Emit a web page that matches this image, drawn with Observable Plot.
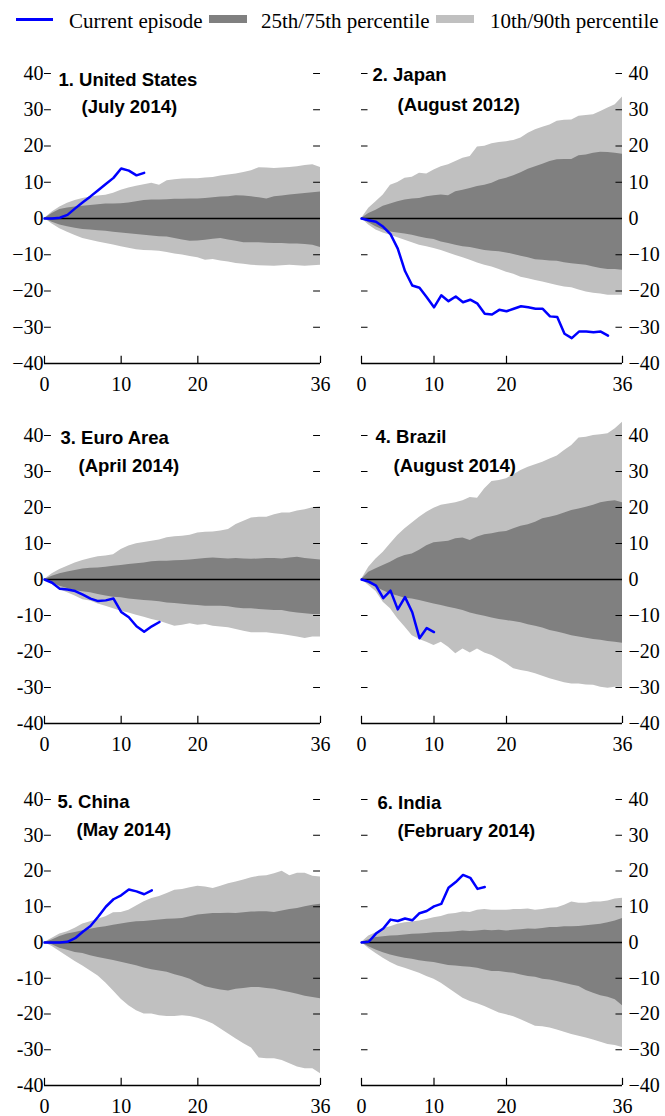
<!DOCTYPE html>
<html>
<head>
<meta charset="utf-8">
<script src="https://cdn.jsdelivr.net/npm/d3@7"></script>
<script src="https://cdn.jsdelivr.net/npm/@observablehq/plot@0.6"></script>
<style>
  html, body { margin: 0; padding: 0; background: #fff; }
  body { width: 665px; height: 1116px; position: relative; overflow: hidden; font-family: "Liberation Serif", serif; }
  .lg { position: absolute; font-size: 21px; line-height: 21px; white-space: nowrap; color: #000; }
  .sw { position: absolute; }
  .panel { position: absolute; }
</style>
</head>
<body>
<div id="legend">
  <div class="sw" style="left:16px;top:18px;width:37px;height:3px;background:#0000ff"></div>
  <div class="lg" style="left:69px;top:11px">Current episode</div>
  <div class="sw" style="left:209px;top:15px;width:38px;height:8px;background:#808080"></div>
  <div class="lg" style="left:261px;top:11px">25th/75th percentile</div>
  <div class="sw" style="left:436px;top:15px;width:38px;height:8px;background:#c0c0c0"></div>
  <div class="lg" style="left:490px;top:11px">10th/90th percentile</div>
</div>
<div id="charts"></div>
<script>
// ---- Data (months 0..36) ----
const months = d3.range(0, 37);
const xTicks = [0, 10, 20, 36];
const yTicks = [-40, -30, -20, -10, 0, 10, 20, 30, 40];

const titles = [
  ["1. United States", "(July 2014)"],
  ["2. Japan", "(August 2012)"],
  ["3. Euro Area", "(April 2014)"],
  ["4. Brazil", "(August 2014)"],
  ["5. China", "(May 2014)"],
  ["6. India", "(February 2014)"]
];

// United States
const usP90 = [0,1.8,3.2,4.2,5.0,5.5,5.9,6.2,6.4,7.0,7.8,8.4,8.9,9.3,9.7,9.2,10.4,10.7,10.9,11.0,11.0,11.2,11.3,11.7,12.0,12.3,12.7,13.2,14.0,13.9,13.8,13.9,14.1,14.3,14.6,14.8,14.1];
const usP75 = [0,1.4,2.5,2.9,3.2,3.4,3.6,3.8,4.0,4.0,4.1,4.3,4.6,5.0,5.1,5.1,5.2,5.3,5.3,5.4,5.4,5.5,5.7,5.9,6.0,6.3,6.2,6.0,5.7,5.4,6.0,6.2,6.5,6.7,6.9,7.1,7.3];
const usP25 = [0,-1.0,-1.8,-2.3,-2.7,-3.0,-3.2,-3.4,-3.5,-3.8,-4.0,-4.2,-4.4,-4.6,-4.8,-5.0,-5.1,-5.5,-5.9,-6.3,-6.2,-6.0,-5.7,-5.5,-5.9,-6.3,-6.7,-6.7,-6.7,-6.8,-6.9,-6.9,-7.0,-7.0,-7.2,-7.4,-8.0];
const usP10 = [0,-1.5,-2.8,-3.8,-4.7,-5.5,-6.0,-6.5,-6.9,-7.3,-7.8,-8.2,-8.6,-8.8,-8.9,-9.0,-9.4,-9.8,-10.1,-10.5,-10.8,-11.5,-11.3,-11.7,-12.0,-12.4,-12.6,-12.9,-13.0,-13.1,-13.2,-13.0,-12.9,-13.0,-13.2,-13.0,-12.9];
const usCur = [0,0,0.2,1.0,2.8,4.5,6.1,7.8,9.5,11.2,13.8,13.2,11.9,12.6];

// Japan
const jpP90 = [0,2.8,4.6,6.5,9.2,9.9,11.1,11.4,12.5,12.3,13.4,14.3,14.8,15.7,16.6,17.1,19.7,19.9,20.6,21.0,21.2,21.5,22.2,23.5,24.5,25.2,25.8,26.8,27.1,27.2,28.2,28.4,28.6,29.5,30.5,31.4,33.5];
const jpP75 = [0,1.4,2.3,3.4,4.0,4.6,5.1,5.4,5.5,6.0,6.3,6.5,6.3,7.4,7.8,8.3,8.8,9.2,9.7,10.6,11.1,11.8,12.6,13.6,14.3,15.0,15.7,16.2,16.3,16.3,17.3,17.5,18.0,18.3,18.2,18.0,17.7];
const jpP25 = [0,-1.2,-2.3,-3.2,-3.7,-4.0,-4.3,-4.6,-5.1,-5.5,-5.8,-6.5,-6.9,-7.4,-7.8,-8.0,-8.4,-8.8,-9.0,-9.2,-9.5,-9.9,-10.4,-10.8,-11.4,-11.5,-11.7,-11.8,-12.2,-12.5,-12.7,-12.9,-13.4,-13.8,-14.1,-14.1,-14.3];
const jpP10 = [0,-1.8,-3.2,-4.0,-4.6,-5.3,-6.0,-6.7,-7.4,-7.8,-8.3,-8.8,-9.5,-10.2,-10.8,-11.5,-12.3,-12.9,-13.4,-14.1,-14.8,-15.4,-16.2,-16.6,-17.1,-17.5,-18.0,-18.5,-18.9,-19.1,-19.7,-20.3,-20.6,-20.8,-21.2,-21.2,-21.2];
const jpCur = [0,-0.5,-0.9,-2.3,-4.3,-8.3,-14.5,-18.5,-19.1,-21.7,-24.5,-21.2,-22.8,-21.5,-23.1,-22.4,-23.5,-26.3,-26.5,-25.2,-25.6,-24.9,-24.2,-24.5,-24.9,-24.9,-27.0,-27.2,-31.8,-33.0,-31.2,-31.2,-31.4,-31.2,-32.3];

// Euro Area
const euP90 = [0,1.6,2.8,3.7,4.6,5.3,5.8,6.3,6.5,6.9,8.3,9.3,9.9,10.3,10.6,11.0,11.6,11.9,12.0,12.3,12.9,13.1,13.2,13.5,13.9,15.3,16.2,17.1,17.3,17.3,18.0,18.5,18.5,19.0,19.4,19.9,20.2];
const euP75 = [0,0.9,1.6,2.1,2.5,2.9,3.1,3.2,3.4,3.7,3.9,4.2,4.4,4.6,4.9,5.1,5.1,5.2,5.3,5.4,5.6,5.8,6.0,5.8,5.7,5.8,5.7,5.6,5.7,5.8,5.8,5.7,6.0,6.2,5.8,5.6,5.4];
const euP25 = [0,-0.9,-1.9,-2.5,-3.1,-3.4,-3.7,-4.2,-4.6,-4.9,-5.1,-5.4,-5.6,-5.8,-6.0,-6.2,-6.5,-6.7,-6.9,-7.1,-7.2,-7.4,-7.4,-7.4,-7.6,-7.9,-8.1,-8.1,-8.3,-8.5,-8.6,-8.6,-9.0,-9.3,-9.5,-9.7,-9.7];
const euP10 = [0,-1.4,-2.8,-3.7,-4.6,-5.6,-6.0,-6.8,-7.4,-8.1,-8.8,-9.3,-9.9,-10.5,-11.1,-11.6,-12.3,-13.0,-12.7,-12.3,-12.7,-12.5,-13.0,-13.2,-13.4,-13.9,-14.4,-14.8,-14.8,-14.8,-15.1,-15.3,-15.6,-16.0,-16.4,-16.0,-16.0];
const euCur = [0,-0.9,-2.6,-2.8,-3.2,-4.2,-5.3,-6.0,-5.8,-5.3,-9.0,-10.5,-13.0,-14.5,-13.0,-11.8];

// Brazil
const brP90 = [0,3.4,5.7,7.6,9.9,12.2,14.1,15.7,17.3,18.7,19.8,20.6,21.0,21.3,21.9,22.8,22.6,25.2,27.2,27.5,28.0,29.1,30.3,31.2,31.9,32.6,33.5,34.3,35.8,37.2,39.3,39.5,40.0,40.2,40.5,41.9,43.7];
const brP75 = [0,2.0,3.0,3.9,4.8,5.9,6.7,7.1,8.1,9.4,10.2,10.4,10.6,11.3,11.5,10.8,11.8,12.4,12.7,13.1,13.3,14.1,14.8,15.2,15.9,16.9,17.3,17.8,18.5,19.2,19.6,20.1,20.6,21.3,21.7,21.9,21.3];
const brP25 = [0,-1.2,-2.1,-3.1,-4.0,-4.6,-5.2,-5.4,-5.8,-6.3,-6.8,-7.2,-7.7,-8.1,-8.6,-9.3,-9.8,-10.2,-10.7,-11.1,-11.4,-11.7,-12.0,-12.6,-13.0,-13.5,-14.2,-14.6,-15.1,-15.6,-16.0,-16.3,-16.7,-16.9,-17.2,-17.4,-17.7];
const brP10 = [0,-1.7,-3.3,-6.3,-8.1,-10.9,-13.2,-15.6,-16.7,-17.4,-18.3,-17.4,-18.8,-20.6,-19.3,-20.4,-19.3,-20.4,-21.1,-22.2,-23.4,-24.8,-25.3,-25.6,-26.2,-26.9,-27.6,-28.1,-28.7,-29.0,-29.0,-29.3,-29.4,-29.9,-30.2,-29.9,-29.9];
const brCur = [0,-0.6,-1.7,-5.2,-3.1,-8.3,-4.9,-9.1,-16.3,-13.5,-14.6];

// China
const cnP90 = [0,1.2,2.4,3.0,4.0,5.2,5.8,6.5,7.2,8.3,8.4,9.0,10.2,11.4,12.3,12.9,13.7,14.6,14.8,15.3,15.7,15.5,15.1,15.7,16.4,16.9,17.5,18.1,18.5,18.7,19.2,19.9,18.7,19.4,19.4,18.5,18.3];
const cnP75 = [0,0.7,1.7,2.4,2.8,3.3,3.7,4.1,4.4,4.8,5.2,5.5,5.8,5.9,6.1,6.3,6.5,6.6,6.7,7.2,7.7,7.9,8.1,8.1,8.2,8.1,8.3,8.5,8.6,8.6,8.4,8.8,9.2,9.5,10.0,10.4,10.7];
const cnP25 = [0,-0.6,-1.6,-2.2,-2.8,-3.1,-3.7,-4.2,-4.6,-5.0,-5.5,-6.0,-6.5,-7.1,-7.6,-8.0,-8.3,-9.0,-9.6,-10.3,-11.4,-12.4,-12.9,-13.3,-13.6,-13.1,-12.9,-12.6,-12.6,-12.9,-13.1,-13.6,-14.0,-14.5,-15.0,-15.4,-15.7];
const cnP10 = [0,-1.1,-2.5,-3.9,-5.3,-6.6,-8.0,-9.4,-11.3,-13.6,-15.9,-17.7,-19.1,-20.0,-20.0,-20.5,-20.7,-20.7,-20.5,-20.7,-21.2,-21.9,-22.8,-24.2,-25.6,-27.0,-28.3,-29.5,-32.3,-32.5,-32.5,-33.0,-33.9,-34.8,-35.3,-35.3,-36.7];
const cnCur = [0,0,0,0.2,1.2,3.0,4.6,7.2,10.0,12.1,13.2,14.8,14.3,13.5,14.6];

// India
const inP90 = [0,1.8,2.7,3.9,4.4,5.1,5.5,5.7,6.0,6.4,6.9,7.3,7.9,8.1,8.5,8.4,9.0,9.2,9.0,9.0,9.0,9.2,9.2,9.4,9.0,9.2,9.6,9.7,10.4,11.3,11.0,11.0,11.3,11.3,11.6,12.2,12.4];
const inP75 = [0,0.8,1.4,1.6,1.8,1.9,2.1,2.3,2.4,2.5,2.7,2.8,2.9,3.0,3.2,3.1,3.2,3.4,3.3,3.4,3.2,3.4,3.6,3.8,3.7,3.9,4.2,4.2,4.4,4.4,4.5,4.7,4.9,5.1,5.5,6.0,6.7];
const inP25 = [0,-1.2,-2.1,-2.9,-3.5,-4.0,-4.4,-4.7,-5.1,-5.4,-5.6,-6.0,-6.4,-6.6,-6.8,-6.9,-7.2,-7.7,-8.1,-8.1,-8.4,-8.6,-9.1,-9.5,-9.7,-10.3,-10.5,-10.9,-11.4,-11.9,-12.3,-13.4,-14.2,-14.9,-15.3,-16.0,-17.7];
const inP10 = [0,-1.7,-3.1,-4.4,-5.6,-6.6,-7.2,-7.9,-8.6,-9.5,-10.3,-11.4,-12.8,-14.2,-15.6,-16.5,-17.1,-17.9,-18.8,-19.7,-20.2,-20.8,-21.6,-22.5,-23.4,-23.6,-23.9,-24.5,-25.1,-25.7,-26.2,-26.7,-27.3,-27.9,-28.5,-28.8,-29.4];
const inCur = [0,0.2,2.5,3.9,6.4,6.0,6.7,6.2,8.2,8.8,10.1,10.8,15.3,16.9,18.9,18.1,15.0,15.5];

// ---- Layout / styling ----
const series = [
  [usP10, usP25, usP75, usP90, usCur],
  [jpP10, jpP25, jpP75, jpP90, jpCur],
  [euP10, euP25, euP75, euP90, euCur],
  [brP10, brP25, brP75, brP90, brCur],
  [cnP10, cnP25, cnP75, cnP90, cnCur],
  [inP10, inP25, inP75, inP90, inCur]
];
const rowTop = [73, 435, 799];
const rowH = [290, 288, 286];
const titleOffsets = [
  [[14, -1], [37, 26]],
  [[11, -6], [36, 24]],
  [[16, -5], [34, 23]],
  [[14, -6], [32, 23]],
  [[13, -5], [32, 23]],
  [[16, -4], [36, 24]]
];
const hyphenPanels = [2, 4];

const LIGHT = "#c0c0c0", DARK = "#808080", BLUE = "#0000ff";
const container = document.getElementById("charts");

series.forEach(([p10, p25, p75, p90, cur], i) => {
  const col = i % 2, row = Math.floor(i / 2);
  const band = months.map((m, k) => ({m, p10: p10[k], p25: p25[k], p75: p75[k], p90: p90[k]}));
  const line = cur.map((v, k) => ({m: k, v}));
  const mt = 20, mb = 36;
  const left = col === 0 ? 0 : 330;
  const width = col === 0 ? 340 : 335;
  const ml = col === 0 ? 44 : 31;
  const mr = col === 0 ? 20 : 43;
  const height = mt + rowH[row] + mb;
  const minus = hyphenPanels.includes(i) ? "-" : "\u2212";
  const fmt = d => d < 0 ? minus + Math.abs(d) : String(d);
  const innerTicks = yTicks.filter(t => t !== -40 && t !== 0);
  const [[t1dx, t1dy], [t2dx, t2dy]] = titleOffsets[i];

  const svg = Plot.plot({
    width, height,
    marginLeft: ml, marginRight: mr, marginTop: mt, marginBottom: mb,
    x: {domain: [0, 36]},
    y: {domain: [-40, 40]},
    style: {fontFamily: "Liberation Serif", fontSize: "20px", background: "transparent", overflow: "visible", color: "#000"},
    marks: [
      Plot.areaY(band, {x: "m", y1: "p10", y2: "p90", fill: LIGHT}),
      Plot.areaY(band, {x: "m", y1: "p25", y2: "p75", fill: DARK}),
      Plot.ruleY([0], {x1: 0, x2: 36, stroke: "#000", strokeWidth: 1.5}),
      Plot.ruleY([-40], {x1: 0, x2: 36, stroke: "#000", strokeWidth: 1.5}),
      Plot.ruleX(xTicks, {y1: -40, y2: -38, stroke: "#000", strokeWidth: 1.2}),
      Plot.ruleY(innerTicks, {x1: 0, x2: 0.9, stroke: "#000", strokeWidth: 1}),
      Plot.ruleY(innerTicks, {x1: 35.1, x2: 36, stroke: "#000", strokeWidth: 1}),
      Plot.lineY(line, {x: "m", y: "v", stroke: BLUE, strokeWidth: 2.5}),
      Plot.axisX({ticks: xTicks, tickSize: 0, tickPadding: 13, label: null, fontSize: 20}),
      Plot.axisY({ticks: yTicks, anchor: col === 0 ? "left" : "right", tickSize: 0,
                  tickPadding: col === 0 ? 1 : 6, tickFormat: fmt, label: null, fontSize: 20}),
      Plot.text([titles[i][0]], {text: d => d, frameAnchor: "top-left", lineAnchor: "top", textAnchor: "start",
                  dx: t1dx, dy: t1dy, fontFamily: "Liberation Sans", fontWeight: "bold", fontSize: 18.5, fill: "#000"}),
      Plot.text([titles[i][1]], {text: d => d, frameAnchor: "top-left", lineAnchor: "top", textAnchor: "start",
                  dx: t2dx, dy: t2dy, fontFamily: "Liberation Sans", fontWeight: "bold", fontSize: 18.5, fill: "#000"})
    ]
  });
  const wrap = document.createElement("div");
  wrap.className = "panel";
  wrap.style.left = left + "px";
  wrap.style.top = (rowTop[row] - mt) + "px";
  wrap.appendChild(svg);
  container.appendChild(wrap);
});
</script>
</body>
</html>
